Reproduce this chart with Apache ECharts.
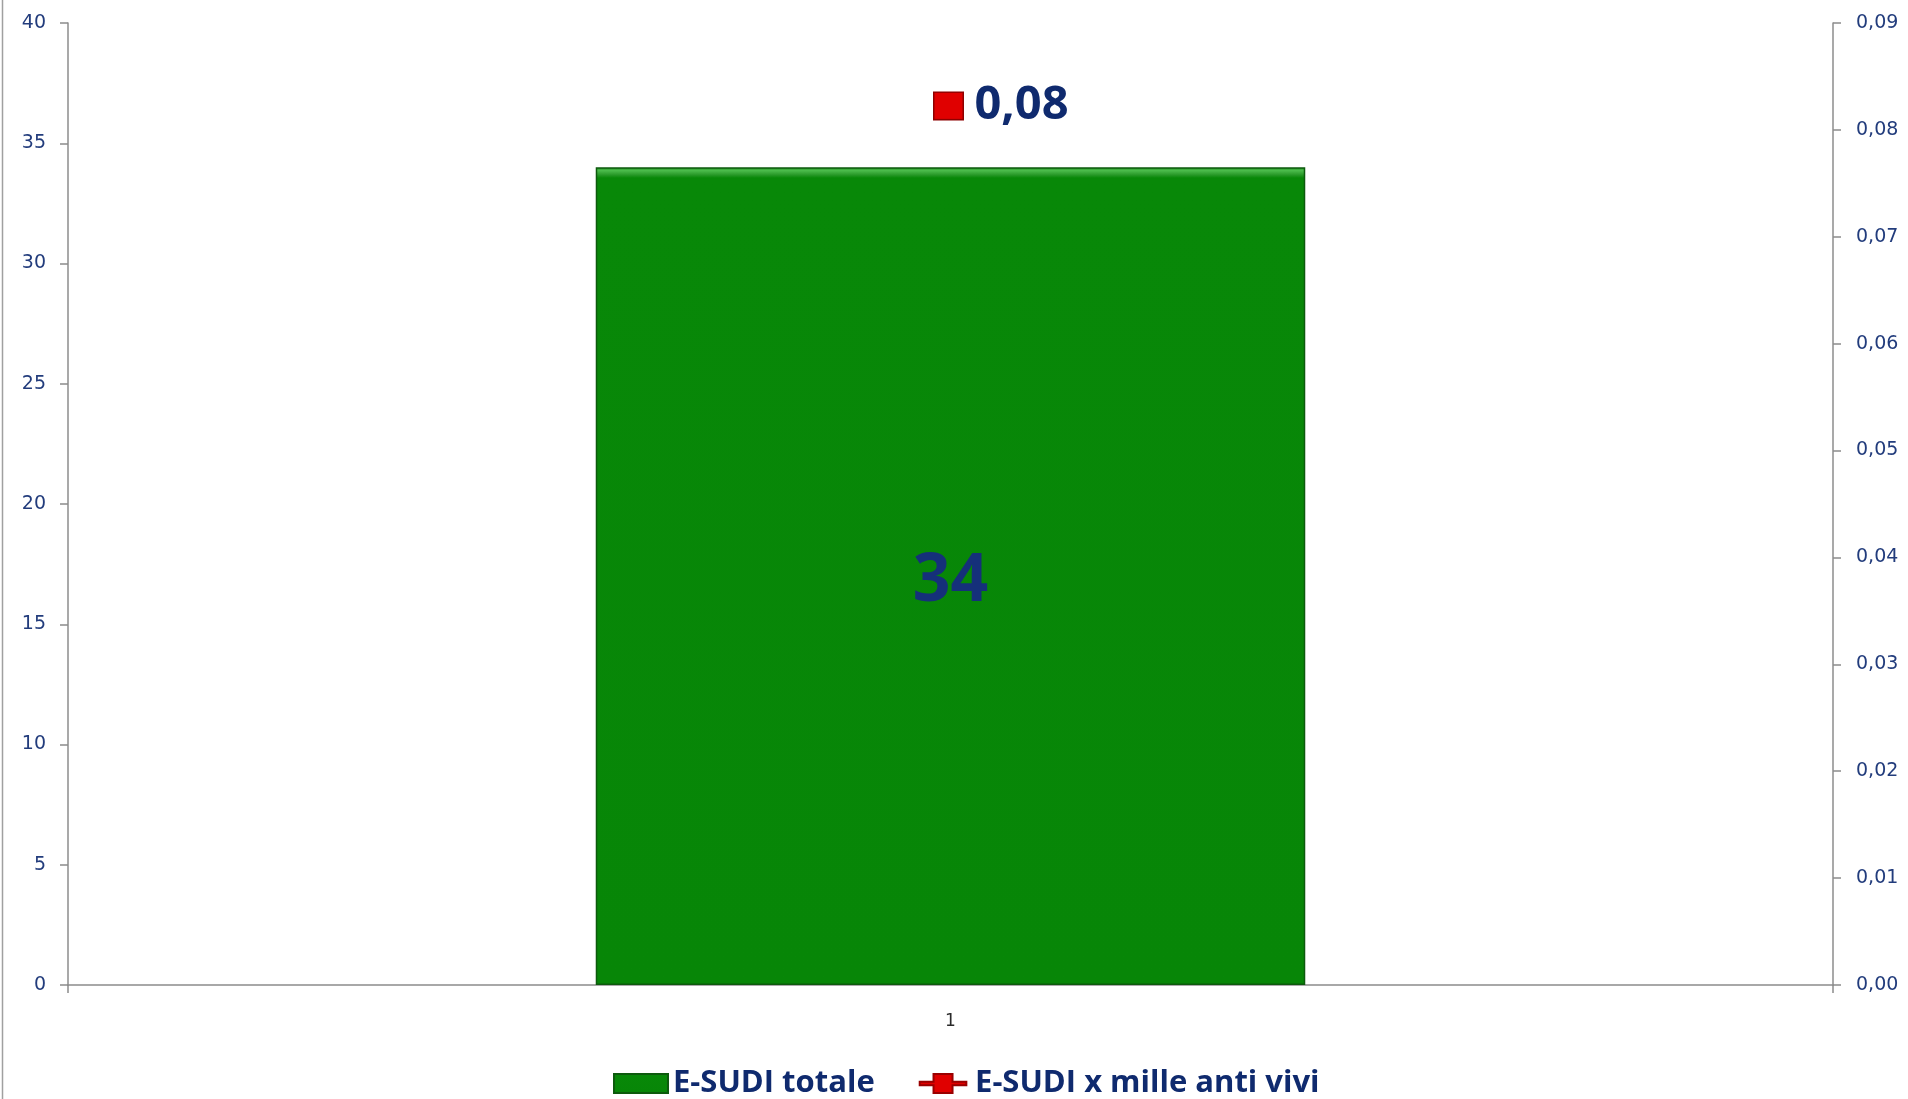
<!DOCTYPE html>
<html>
<head>
<meta charset="utf-8">
<title>E-SUDI</title>
<script src="https://cdn.jsdelivr.net/npm/echarts@6/dist/echarts.min.js"></script>
<style>
  html, body { margin: 0; padding: 0; background: #fff; }
  #chart { width: 1908px; height: 1099px; }
</style>
</head>
<body>
<div id="chart"></div>
<script>
// data
const categories = ['1']
const esudiTotale = [34]
const esudiPerMille = [0.08]
const seriesNames = ['E-SUDI totale', 'E-SUDI x mille anti vivi']

const axisColor = '#8c8c8c'
const labelColor = '#223c7c'
const navy = '#0f2a6e'

const chart = echarts.init(document.getElementById('chart'))

const fmtComma = v => v.toFixed(2).replace('.', ',')

chart.setOption({
  animation: false,
  grid: {
    left: 68,
    right: 75,
    top: 23,
    bottom: 114
  },
  legend: {
    bottom: -5,
    left: 608,
    itemWidth: 54,
    itemHeight: 19,
    itemGap: 44,
    textStyle: {
      fontFamily: 'Open Sans',
      fontWeight: 'bold',
      fontSize: 31,
      color: navy,
      padding: [0, 0, 0, 0]
    },
    data: [
      { name: seriesNames[0], icon: 'rect' },
      { name: seriesNames[1], icon: 'path://M0,9H16V0H38V9H54V13H38V22H16V13H0Z' }
    ]
  },
  graphic: [{
    type: 'line',
    shape: { x1: 2.5, y1: 0, x2: 2.5, y2: 1099 },
    style: { stroke: '#a0a0a0', lineWidth: 1.5 }
  }],
  xAxis: {
    type: 'category',
    data: categories,
    axisLine: { lineStyle: { color: axisColor, width: 1.5 } },
    axisTick: { show: true, length: 8, lineStyle: { color: axisColor, width: 1.5 } },
    axisLabel: {
      margin: 28,
      fontFamily: 'DejaVu Sans',
      fontSize: 17,
      color: '#2a2a2a'
    }
  },
  yAxis: [{
    type: 'value',
    min: 0,
    max: 40,
    interval: 5,
    splitLine: { show: false },
    axisLine: { show: true, lineStyle: { color: axisColor, width: 1.5 } },
    axisTick: { show: true, length: 8, lineStyle: { color: axisColor, width: 1.5 } },
    axisLabel: {
      margin: 22,
      fontFamily: 'DejaVu Sans',
      fontSize: 19,
      color: labelColor
    }
  }, {
    type: 'value',
    min: 0,
    max: 0.09,
    interval: 0.01,
    position: 'right',
    splitLine: { show: false },
    axisLine: { show: true, lineStyle: { color: axisColor, width: 1.5 } },
    axisTick: { show: true, length: 8, lineStyle: { color: axisColor, width: 1.5 } },
    axisLabel: {
      margin: 23,
      fontFamily: 'DejaVu Sans',
      fontSize: 19,
      color: labelColor,
      formatter: v => fmtComma(v)
    }
  }],
  series: [{
    name: seriesNames[0],
    type: 'bar',
    yAxisIndex: 0,
    barWidth: '40.2%',
    data: esudiTotale,
    itemStyle: {
      color: new echarts.graphic.LinearGradient(0, 0, 0, 1, [
        { offset: 0, color: '#1f8f1f' },
        { offset: 0.004, color: '#4cbc4c' },
        { offset: 0.009, color: '#2a9a2a' },
        { offset: 0.013, color: '#088808' },
        { offset: 1, color: '#078607' }
      ]),
      borderColor: '#0d5a0d',
      borderWidth: 1.5
    },
    label: {
      show: true,
      position: 'inside',
      offset: [0, 6],
      fontFamily: 'Open Sans',
      fontWeight: 'bold',
      fontSize: 66,
      color: '#15307a',
      textBorderWidth: 0,
      formatter: '{c}'
    }
  }, {
    name: seriesNames[1],
    type: 'line',
    yAxisIndex: 1,
    symbol: 'rect',
    data: esudiPerMille.map(v => ({ value: v, symbolSize: 0 })),
    itemStyle: { color: '#e00000', borderColor: '#9a0000', borderWidth: 1 },
    lineStyle: { color: '#d24a4a', width: 4 },
    label: {
      show: true,
      position: 'top',
      distance: 2,
      align: 'left',
      offset: [-16, 3],
      formatter: p => '{box|}{val|' + fmtComma(p.value) + '}',
      rich: {
        box: {
          width: 28,
          height: 26,
          backgroundColor: '#e00000',
          borderColor: '#8e0000',
          borderWidth: 1.5
        },
        val: {
          fontFamily: 'Open Sans',
          fontWeight: 'bold',
          fontSize: 47,
          lineHeight: 50,
          color: navy,
          padding: [0, 0, 0, 12]
        }
      }
    }
  }]
})
</script>
</body>
</html>
